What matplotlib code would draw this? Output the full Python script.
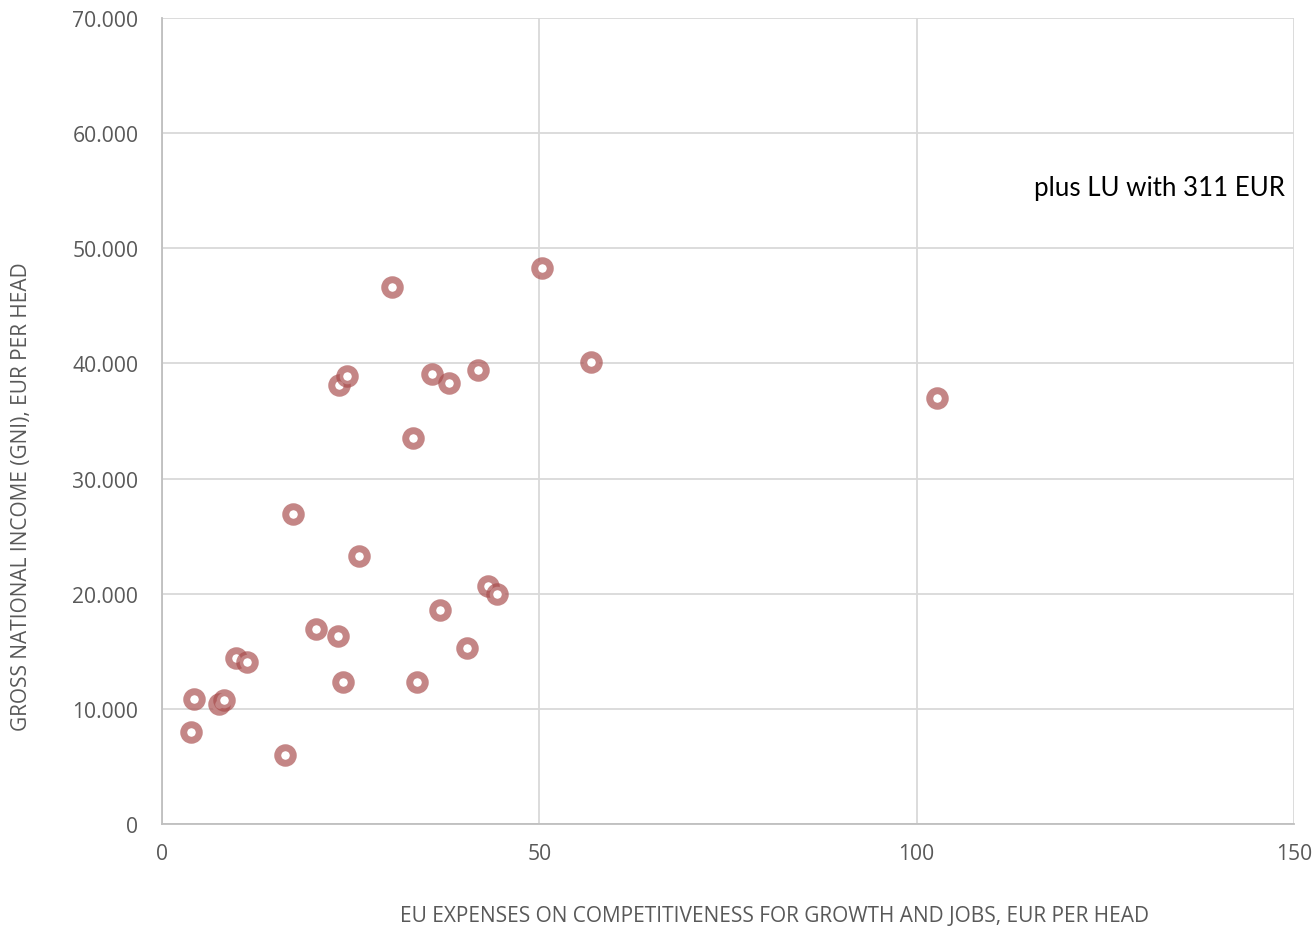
import matplotlib
matplotlib.use("Agg")
import matplotlib.pyplot as plt
from matplotlib.ticker import FuncFormatter

plt.rcParams['font.family'] = ['Open Sans', 'DejaVu Sans']

# EU expenses on competitiveness (EUR per head) vs GNI (EUR per head), EU member states without LU
expenses = [3.8, 4.2, 7.6, 8.2, 9.8, 11.3, 16.3, 17.4, 20.4, 23.3, 24.0, 23.5, 24.5, 26.1,
            30.5, 33.3, 33.8, 35.8, 36.8, 38.0, 40.4, 41.9, 43.2, 44.4, 50.4, 56.8, 102.7]
gni = [7990, 10860, 10400, 10770, 14400, 14070, 6000, 26930, 16940, 16330, 12300, 38140, 38920, 23280,
       46650, 33530, 12300, 39100, 18590, 38310, 15290, 39440, 20680, 19980, 48300, 40140, 37010]

x_ticks = [0, 50, 100, 150]
y_ticks = [0, 10000, 20000, 30000, 40000, 50000, 60000, 70000]

grid_col = '#d9d9d9'
text_col = '#595959'

fig = plt.figure(figsize=(13.16, 9.28), dpi=100)
ax = fig.add_axes([162 / 1316, 1 - 825 / 928, (1294 - 162) / 1316, (825 - 19) / 928])

ax.plot(expenses, gni, linestyle='none', marker='o', markersize=11.2,
        markerfacecolor='white', markeredgecolor=(0.66, 0.30, 0.30, 0.68),
        markeredgewidth=5.0, zorder=3)

ax.set_xlim(0, 150)
ax.set_ylim(0, 70000)
ax.set_xticks(x_ticks)
ax.set_yticks(y_ticks)
ax.yaxis.set_major_formatter(FuncFormatter(lambda v, p: f"{int(v):,}".replace(',', '.')))
ax.tick_params(length=0, labelsize=15.2, labelcolor=text_col)
ax.tick_params(axis='y', pad=17)
ax.tick_params(axis='x', pad=14)
ax.grid(True, color=grid_col, linewidth=1.3, zorder=0)
ax.set_axisbelow(True)
for side in ['top', 'right']:
    ax.spines[side].set_visible(False)
for side in ['left', 'bottom']:
    ax.spines[side].set_color('#bfbfbf')
    ax.spines[side].set_linewidth(1.3)

ax.text(0.992, 0.79, 'plus LU with 311 EUR', transform=ax.transAxes, ha='right', va='center',
        fontsize=18.6, color='black', family=['Lato', 'DejaVu Sans'])

fig.text(775 / 1316, 1 - 917 / 928, 'EU EXPENSES ON COMPETITIVENESS FOR GROWTH AND JOBS, EUR PER HEAD',
         ha='center', va='center', fontsize=15.0, color=text_col)
fig.text(22 / 1316, 1 - 497 / 928, 'GROSS NATIONAL INCOME (GNI), EUR PER HEAD',
         ha='center', va='center', rotation=90, fontsize=15.0, color=text_col)

fig.savefig('out.png', dpi=100)
